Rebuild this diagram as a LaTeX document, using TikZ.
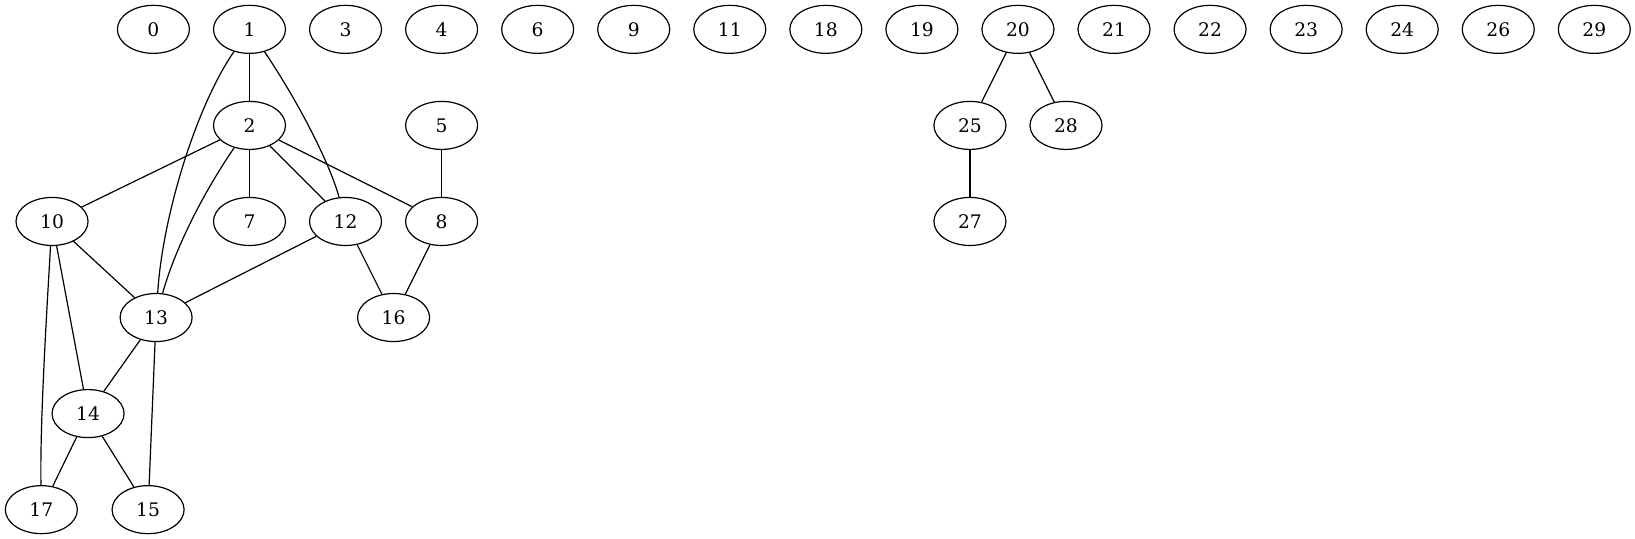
\documentclass[tikz,border=0pt]{standalone}
\usepackage{fontspec}
\setmainfont{DejaVu Serif}
\usetikzlibrary{shapes.geometric}

\begin{document}
\begin{tikzpicture}[x=1pt,y=-1pt,line width=0.9pt,
  vtx/.style={ellipse,draw,minimum width=54pt,minimum height=36pt,inner sep=0pt,font=\fontsize{14}{16}\selectfont}]
\useasboundingbox (0,0) rectangle (1225.5,404);
% Top row
\foreach \v [count=\i from 0] in {0,1,3,4,6,9,11,18,19,20,21,22,23,24,26,29} {
    \node[vtx] (n\v) at ({115+72*\i}, 22) {\v};
}

% Lower rows
\node[vtx] (n2) at (187, 94) {2};
\node[vtx] (n5) at (331, 94) {5};
\node[vtx] (n25) at (727, 94) {25};
\node[vtx] (n28) at (799, 94) {28};
\node[vtx] (n10) at (39, 166) {10};
\node[vtx] (n7) at (187, 166) {7};
\node[vtx] (n12) at (259, 166) {12};
\node[vtx] (n8) at (331, 166) {8};
\node[vtx] (n27) at (727, 166) {27};
\node[vtx] (n13) at (117, 238) {13};
\node[vtx] (n16) at (295, 238) {16};
\node[vtx] (n14) at (66, 310) {14};
\node[vtx] (n17) at (31, 382) {17};
\node[vtx] (n15) at (111, 382) {15};

% Edges
\draw (n1) -- (n2);
\draw (n1) .. controls (148,78) and (122,160) .. (n13);
\draw (n1) .. controls (226,80) and (248,125) .. (n12);
\draw (n2) -- (n10);
\draw (n2) .. controls (150,148) and (130,190) .. (n13);
\draw (n2) -- (n7);
\draw (n2) -- (n12);
\draw (n2) -- (n8);
\draw (n5) -- (n8);
\draw (n10) -- (n13);
\draw (n10) -- (n14);
\draw (n10) .. controls (34,250) and (30,320) .. (n17);
\draw (n12) -- (n13);
\draw (n12) -- (n16);
\draw (n8) -- (n16);
\draw (n13) -- (n14);
\draw (n13) -- (n15);
\draw (n14) -- (n17);
\draw (n14) -- (n15);
\draw (n20) -- (n25);
\draw (n20) -- (n28);
\draw (n25) -- (n27);
\end{tikzpicture}
\end{document}
